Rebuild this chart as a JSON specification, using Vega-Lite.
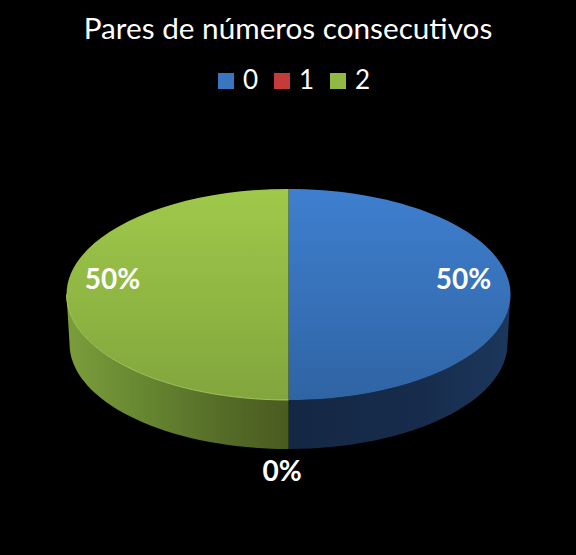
{
  "$schema": "https://vega.github.io/schema/vega-lite/v6.json",
  "width": 576,
  "height": 555,
  "padding": 0,
  "autosize": "none",
  "background": "#000000",
  "title": {
    "text": "Pares de números consecutivos",
    "font": "Lato",
    "fontSize": 29.7,
    "fontWeight": "normal",
    "color": "#ffffff",
    "anchor": "middle",
    "frame": "group",
    "dy": 50
  },
  "data": {
    "values": [
      {"categoria": "0", "porcentaje": 50, "etiqueta": "50%"},
      {"categoria": "1", "porcentaje": 0, "etiqueta": "0%"},
      {"categoria": "2", "porcentaje": 50, "etiqueta": "50%"}
    ]
  },
  "layer": [
    {
      "mark": {"type": "point", "size": 0, "filled": true, "opacity": 1, "shape": "square"},
      "encoding": {
        "color": {
          "field": "categoria",
          "type": "nominal",
          "scale": {
            "domain": ["0", "1", "2"],
            "range": ["#3a75c2", "#c43c39", "#93b945"]
          },
          "legend": {
            "orient": "none",
            "legendX": 213,
            "legendY": 68,
            "direction": "horizontal",
            "title": null,
            "symbolType": "square",
            "symbolSize": 256,
            "symbolOpacity": 1,
            "symbolStrokeWidth": 0,
            "labelColor": "#ffffff",
            "labelFont": "Lato",
            "labelFontSize": 26,
            "labelOffset": 4,
            "columnPadding": 10
          }
        }
      }
    },
    {
      "transform": [{"filter": "datum.categoria == '0'"}],
      "mark": {
        "type": "point",
        "shape": "M222.5 17L219.5 66A219 105.5 0 0 1 0.5 171.5L0.5 122.5A222 105.5 0 0 0 222.5 17Z",
        "size": 4,
        "filled": true,
        "opacity": 1,
        "fill": {
          "gradient": "linear",
          "x1": 0, "y1": 0, "x2": 1, "y2": 0,
          "stops": [
            {"offset": 0, "color": "#142844"},
            {"offset": 0.6, "color": "#172c4c"},
            {"offset": 1, "color": "#1b375c"}
          ]
        }
      }
    },
    {
      "transform": [{"filter": "datum.categoria == '2'"}],
      "mark": {
        "type": "point",
        "shape": "M0.5 122.5L0.5 171.5A219 105.5 0 0 1 -218.5 66L-221.5 17A222 105.5 0 0 0 0.5 122.5Z",
        "size": 4,
        "filled": true,
        "opacity": 1,
        "fill": {
          "gradient": "linear",
          "x1": 0, "y1": 0, "x2": 1, "y2": 0,
          "stops": [
            {"offset": 0, "color": "#7c9d3b"},
            {"offset": 0.35, "color": "#678631"},
            {"offset": 0.7, "color": "#556c28"},
            {"offset": 1, "color": "#4a5b1f"}
          ]
        }
      }
    },
    {
      "transform": [{"filter": "datum.categoria == '0'"}],
      "mark": {
        "type": "point",
        "shape": "M0.5 -88.5A222 105.5 0 0 1 0.5 122.5Z",
        "size": 4,
        "filled": true,
        "opacity": 1,
        "fill": {
          "gradient": "linear",
          "x1": 0, "y1": 0, "x2": 0, "y2": 1,
          "stops": [
            {"offset": 0, "color": "#3f7fcf"},
            {"offset": 1, "color": "#2f64a4"}
          ]
        }
      }
    },
    {
      "transform": [{"filter": "datum.categoria == '2'"}],
      "mark": {
        "type": "point",
        "shape": "M0.5 122.5A222 105.5 0 0 1 0.5 -88.5Z",
        "size": 4,
        "filled": true,
        "opacity": 1,
        "fill": {
          "gradient": "linear",
          "x1": 0, "y1": 0, "x2": 0, "y2": 1,
          "stops": [
            {"offset": 0, "color": "#9fc94a"},
            {"offset": 1, "color": "#82a53d"}
          ]
        }
      }
    },
    {
      "transform": [{"filter": "datum.categoria == '2'"}],
      "mark": {
        "type": "point",
        "shape": "M-221.5 17A222 105.5 0 0 0 0.5 122.5",
        "size": 4,
        "filled": false,
        "fill": null,
        "opacity": 0.8,
        "stroke": "#b4d566",
        "strokeWidth": 1
      }
    },
    {
      "mark": {
        "type": "text",
        "font": "Lato",
        "fontSize": 28,
        "fontWeight": "bold",
        "color": "#ffffff",
        "dy": 3.5,
        "dx": {"expr": "datum.porcentaje == 0 ? -6 : 0"}
      },
      "encoding": {
        "theta": {
          "field": "porcentaje",
          "type": "quantitative",
          "stack": true,
          "scale": {"domain": [0, 100]}
        },
        "radius": {
          "field": "porcentaje",
          "type": "quantitative",
          "scale": {"type": "linear", "zero": false, "domain": [0, 50], "range": [192, 175.5]}
        },
        "detail": {"field": "categoria"},
        "order": {"field": "categoria"},
        "text": {"field": "etiqueta"}
      }
    }
  ],
  "config": {"view": {"stroke": null}}
}
